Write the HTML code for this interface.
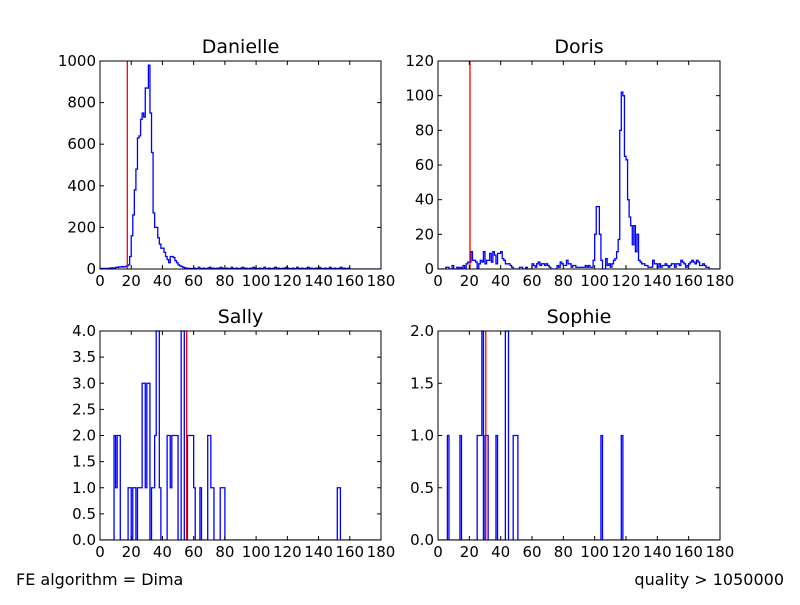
<!DOCTYPE html>
<html><head><meta charset="utf-8"><style>
body{margin:0;background:#fff}
svg text{font-family:"DejaVu Sans","Liberation Sans",sans-serif;fill:#000}
</style></head><body>
<svg id="s" width="800" height="600" viewBox="0 0 800 600" xmlns="http://www.w3.org/2000/svg">
<rect width="800" height="600" fill="#fff"/>
<text x="16" y="585" font-size="16">FE algorithm = Dima</text>
<text x="784" y="585" font-size="16" text-anchor="end">quality &gt; 1050000</text>
</svg>
<script>
const S=document.getElementById('s'),NS='http://www.w3.org/2000/svg';
function el(t,a,txt){const e=document.createElementNS(NS,t);for(const k in a)e.setAttribute(k,a[k]);if(txt!==undefined)e.textContent=txt;S.appendChild(e);return e;}
function panel(o){
 const {x0,x1,yt,yb,ymax,yticks,fmt,title,data,red,id}=o;
 const X=v=>x0+(x1-x0)*v/180, Y=v=>yb-(yb-yt)*v/ymax;
 const cpe=el('clipPath',{id:id});
 const cp=document.createElementNS(NS,'rect');cpe.appendChild(cp);
 cp.setAttribute('x',x0);cp.setAttribute('y',yt-1);cp.setAttribute('width',x1-x0);cp.setAttribute('height',yb-yt+1);
 const c=new Array(181).fill(0);for(const k in data)c[+k]=data[k];
 let d=`M${X(0)},${Y(0)}`;for(let i=0;i<180;i++){d+=`L${X(i)},${Y(c[i])}L${X(i+1)},${Y(c[i])}`;}d+=`L${X(180)},${Y(0)}`;
 el('path',{d:d,fill:'none',stroke:'#00f','stroke-width':1.3,'clip-path':`url(#${id})`});
 el('line',{x1:X(red),x2:X(red),y1:yt,y2:yb,stroke:'#f00','stroke-width':1.3});
 el('rect',{x:x0,y:yt,width:x1-x0,height:yb-yt,fill:'none',stroke:'#000','stroke-width':1});
 for(let v=0;v<=180;v+=20){const x=X(v);el('line',{x1:x,x2:x,y1:yb,y2:yb-4,stroke:'#000'});el('line',{x1:x,x2:x,y1:yt,y2:yt+4,stroke:'#000'});
  el('text',{x:x,y:yb+17,'font-size':15,'text-anchor':'middle'},v);}
 yticks.forEach(v=>{const y=Y(v);el('line',{x1:x0,x2:x0+4,y1:y,y2:y,stroke:'#000'});el('line',{x1:x1,x2:x1-4,y1:y,y2:y,stroke:'#000'});
  el('text',{x:x0-4,y:y+5,'font-size':15,'text-anchor':'end'},fmt(v));});
 el('text',{x:(x0+x1)/2,y:yt-8,'font-size':19,'text-anchor':'middle'},title);
}
const dan={0:3,1:3,2:3,3:3,4:3,5:3,6:4,7:5,8:5,9:5,10:8,11:8,12:10,13:10,14:12,15:10,16:12,17:15,18:20,19:60,20:160,21:260,22:380,23:480,24:630,25:640,26:720,27:750,28:730,29:870,30:870,31:980,32:750,33:560,34:270,35:200,36:200,37:150,38:120,39:100,40:100,41:80,42:60,43:45,44:30,45:60,46:60,47:55,48:40,49:30,50:20,51:15,52:12,53:8,54:5,55:4,56:3,57:3};
for(let i=58;i<160;i++)dan[i]=(i%7==0)?8:(i%3==0?4:2);
const dor={5:1,6:1,9:2,12:1,14:1,16:2,18:3,19:4,20:4,21:10,22:5,23:5,24:4,26:3,27:5,28:4,29:10,30:3,31:5,32:5,33:9,34:4,35:10,36:8,37:3,38:9,39:9,40:10,41:6,42:5,43:3,44:3,45:3,46:2,47:1,52:1,53:1,56:1,60:3,61:2,62:1,63:3,64:4,65:2,66:3,67:3,68:2,69:3,70:2,71:1,76:2,77:1,78:4,79:3,80:2,81:2,82:5,83:3,84:3,85:1,86:2,87:2,88:1,89:1,90:1,91:1,92:1,93:1,94:2,95:1,96:2,97:1,98:1,99:5,100:20,101:36,102:36,103:20,104:5,105:0,106:0,107:6,108:2,109:3,110:1,111:3,112:5,113:6,114:10,115:17,116:80,117:102,118:100,119:65,120:63,121:40,122:30,123:25,124:14,125:25,126:10,127:20,128:5,129:4,130:3,131:3,132:2,133:2,134:1,135:1,136:1,137:5,138:3,139:3,140:1,141:3,142:1,143:2,144:2,145:3,146:2,147:1,148:2,149:3,150:3,151:1,152:3,153:3,154:2,155:5,156:4,157:3,158:1,159:2,160:3,161:4,162:5,163:4,164:3,165:5,166:4,167:2,168:2,169:3,170:2,171:1,172:1};
const sal={9:2,10:1,11:2,12:2,18:1,19:1,21:1,22:1,24:1,25:1,26:1,27:3,28:3,29:1,30:3,31:3,33:1,34:1,35:2,36:4,37:4,38:1,43:2,44:2,45:1,46:2,47:2,48:2,49:2,52:4,53:4,56:2,57:2,58:2,59:2,60:1,64:1,69:2,70:2,71:1,72:1,77:1,78:1,79:1,152:1,153:1};
const sop={6:1,14:1,25:1,26:1,27:1,28:2,30:1,31:1,37:1,43:2,44:2,48:1,49:1,50:1,104:1,117:1};
panel({id:'a',x0:100,x1:381,yt:61,yb:269,ymax:1000,yticks:[0,200,400,600,800,1000],fmt:v=>v,title:'Danielle',data:dan,red:17.5});
panel({id:'b',x0:438,x1:720,yt:61,yb:269,ymax:120,yticks:[0,20,40,60,80,100,120],fmt:v=>v,title:'Doris',data:dor,red:20.4});
panel({id:'c',x0:100,x1:381,yt:331,yb:540,ymax:4,yticks:[0,.5,1,1.5,2,2.5,3,3.5,4],fmt:v=>v.toFixed(1),title:'Sally',data:sal,red:55.5});
panel({id:'d',x0:438,x1:720,yt:331,yb:540,ymax:2,yticks:[0,.5,1,1.5,2],fmt:v=>v.toFixed(1),title:'Sophie',data:sop,red:30.5});
</script>
</body></html>
